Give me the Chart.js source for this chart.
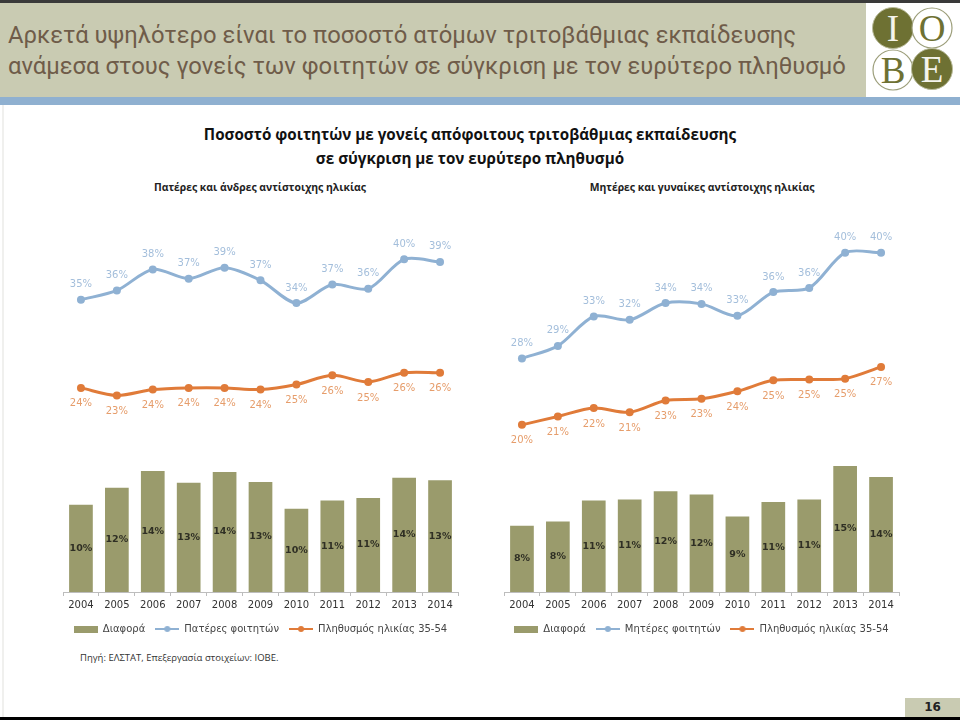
<!DOCTYPE html>
<html>
<head>
<meta charset="utf-8">
<script src="https://cdn.jsdelivr.net/npm/chart.js@4/dist/chart.umd.min.js"></script>
<style>
  body { margin: 0; background: #fff; }
  #page { position: relative; width: 960px; height: 720px; overflow: hidden; background: #fff; }
  #topline { position: absolute; left: 0; top: 0; width: 960px; height: 3px; background: #3a3a3a; }
  #header { position: absolute; left: 0; top: 3px; width: 960px; height: 94px; background: #c9cbb2; }
  #stripe { position: absolute; left: 0; top: 97px; width: 960px; height: 8px; background: #8fb0d0; }
  #headtext { position: absolute; left: 8px; top: 20px; font-family: Roboto, sans-serif; font-size: 23.8px; line-height: 31px; color: #6f5c49; white-space: nowrap; }
  #logo { position: absolute; left: 866px; top: 3px; width: 94px; height: 94px; background: #fff; }
  #title { position: absolute; left: 0; top: 122px; width: 940px; text-align: center; font-family: "Open Sans", sans-serif; font-weight: bold; font-size: 15.2px; line-height: 24px; color: #111; }
  .sub { position: absolute; top: 180px; font-family: "Open Sans", sans-serif; font-weight: bold; font-size: 10.4px; color: #222; text-align: center; width: 300px; }
  canvas { position: absolute; }
  #source { position: absolute; left: 80px; top: 651px; font-family: "Open Sans", sans-serif; font-size: 9.5px; color: #333; }
  #pagebox { position: absolute; left: 905px; top: 698px; width: 55px; height: 19px; background: #c9cbb2; font-family: "DejaVu Sans", sans-serif; font-weight: bold; font-size: 12px; line-height: 19px; color: #222; text-align: center; }
  #bottomline { position: absolute; left: 0; top: 717px; width: 960px; height: 3px; background: #000; }
  #leftline { position: absolute; left: 2px; top: 105px; width: 2px; height: 612px; background: #f0f0ee; }
</style>
</head>
<body>
<div id="page">
  <div id="topline"></div>
  <div id="header"></div>
  <div id="stripe"></div>
  <div id="headtext">Αρκετά υψηλότερο είναι το ποσοστό ατόμων τριτοβάθμιας εκπαίδευσης<br>ανάμεσα στους γονείς των φοιτητών σε σύγκριση με τον ευρύτερο πληθυσμό</div>
  <div id="logo">
    <svg width="94" height="94" viewBox="0 0 94 94">
      <circle cx="27" cy="25" r="20.5" fill="#6e7133" stroke="#b9bb9a" stroke-width="1"/>
      <circle cx="66" cy="25" r="20" fill="#fff" stroke="#9c9e7a" stroke-width="1.2"/>
      <circle cx="27" cy="67" r="20" fill="#fff" stroke="#9c9e7a" stroke-width="1.2"/>
      <circle cx="66" cy="66" r="20.5" fill="#6e7133" stroke="#b9bb9a" stroke-width="1"/>
      <text x="27" y="38" text-anchor="middle" font-family="Liberation Serif" font-size="37" fill="#f4f4ec">I</text>
      <text x="66" y="38" text-anchor="middle" font-family="Liberation Serif" font-size="37" fill="#6e7133">O</text>
      <text x="27" y="80" text-anchor="middle" font-family="Liberation Serif" font-size="37" fill="#6e7133">B</text>
      <text x="66" y="79" text-anchor="middle" font-family="Liberation Serif" font-size="37" fill="#f4f4ec">E</text>
    </svg>
  </div>
  <div id="title">Ποσοστό φοιτητών με γονείς απόφοιτους τριτοβάθμιας εκπαίδευσης<br>σε σύγκριση με τον ευρύτερο πληθυσμό</div>
  <div class="sub" style="left:110px">Πατέρες και άνδρες αντίστοιχης ηλικίας</div>
  <div class="sub" style="left:552px">Μητέρες και γυναίκες αντίστοιχης ηλικίας</div>
  <canvas id="leftChart" width="430" height="444" style="left:45px; top:200px"></canvas>
  <canvas id="rightChart" width="430" height="444" style="left:496px; top:200px"></canvas>
  <div id="source">Πηγή: ΕΛΣΤΑΤ, Επεξεργασία στοιχείων: ΙΟΒΕ.</div>
  <div id="leftline"></div>
  <div id="pagebox">16</div>
  <div id="bottomline"></div>
</div>
<script>
// Data
const years = ["2004", "2005", "2006", "2007", "2008", "2009", "2010", "2011", "2012", "2013", "2014"];

const leftDiff = [10.4, 12.4, 14.4, 13.0, 14.3, 13.1, 9.9, 10.9, 11.2, 13.6, 13.3];
const leftFathers = [34.8, 35.9, 38.4, 37.3, 38.6, 37.1, 34.4, 36.6, 36.1, 39.6, 39.3];
const leftMen = [24.3, 23.4, 24.1, 24.3, 24.3, 24.1, 24.7, 25.8, 25.0, 26.1, 26.1];

const rightDiff = [7.9, 8.4, 10.9, 11.0, 12.0, 11.6, 9.0, 10.7, 11.0, 15.0, 13.7];
const rightMothers = [27.8, 29.3, 32.8, 32.4, 34.4, 34.3, 32.9, 35.7, 36.2, 40.4, 40.4];
const rightWomen = [19.9, 20.9, 21.9, 21.4, 22.8, 23.0, 23.9, 25.2, 25.3, 25.4, 26.8];

const olive = "#9a9b6c";
const blue = "#8fb1d3";
const orange = "#e07b39";

// legend swatches
function swatch(kind, color) {
  const c = document.createElement("canvas");
  c.width = 24;
  c.height = 10;
  const g = c.getContext("2d");
  if (kind === "bar") {
    g.fillStyle = color;
    g.fillRect(0, 2, 24, 7);
  } else {
    g.strokeStyle = color;
    g.lineWidth = 2;
    g.beginPath();
    g.moveTo(0, 5);
    g.lineTo(24, 5);
    g.stroke();
    g.fillStyle = color;
    g.beginPath();
    g.arc(12, 5, 3, 0, Math.PI * 2);
    g.fill();
  }
  return c;
}

// value labels on bars and points
const valueLabels = {
  id: "valueLabels",
  afterDatasetsDraw(chart) {
    const ctx = chart.ctx;
    chart.data.datasets.forEach((ds, i) => {
      const meta = chart.getDatasetMeta(i);
      ctx.save();
      ctx.font = ds.labelFont;
      ctx.fillStyle = ds.labelColor;
      ctx.textAlign = "center";
      ctx.textBaseline = "middle";
      meta.data.forEach((el, j) => {
        const txt = Math.round(ds.data[j]) + "%";
        let y;
        if (meta.type === "bar") {
          y = (el.y + el.base) / 2;
        } else {
          y = el.y + ds.labelOffset;
        }
        ctx.fillText(txt, el.x, y);
      });
      ctx.restore();
    });
  }
};

function makeChart(canvasId, diff, parents, population, parentLabel, pad) {
  const ctx = document.getElementById(canvasId).getContext("2d");
  const swatches = [swatch("bar", olive), swatch("line", blue), swatch("line", orange)];
  return new Chart(ctx, {
    type: "bar",
    data: {
      labels: years,
      datasets: [
        {
          label: "Διαφορά",
          data: diff,
          backgroundColor: olive,
          barPercentage: 0.66,
          categoryPercentage: 1,
          labelFont: "bold 9.5px 'DejaVu Sans'",
          labelColor: "#2f2f24",
          order: 3,
        },
        {
          type: "line",
          label: parentLabel,
          data: parents,
          borderColor: blue,
          backgroundColor: blue,
          borderWidth: 3,
          pointRadius: 4,
          pointBorderWidth: 0,
          tension: 0.3,
          labelFont: "10px 'DejaVu Sans'",
          labelColor: "#a3bedb",
          labelOffset: -15,
          order: 1,
        },
        {
          type: "line",
          label: "Πληθυσμός ηλικίας 35-54",
          data: population,
          borderColor: orange,
          backgroundColor: orange,
          borderWidth: 3,
          pointRadius: 4,
          pointBorderWidth: 0,
          tension: 0.3,
          labelFont: "10px 'DejaVu Sans'",
          labelColor: "#e69d6b",
          labelOffset: 16,
          order: 2,
        },
      ],
    },
    options: {
      responsive: false,
      animation: false,
      layout: { padding: pad },
      plugins: {
        tooltip: { enabled: false },
        legend: {
          position: "bottom",
          labels: {
            usePointStyle: true,
            pointStyleWidth: 24,
            padding: 10,
            color: "#444",
            font: { family: "'DejaVu Sans'", size: 10 },
            generateLabels: (chart) =>
              chart.data.datasets.map((ds, i) => ({
                text: ds.label,
                pointStyle: swatches[i],
                fillStyle: "transparent",
                strokeStyle: "transparent",
                lineWidth: 0,
                hidden: false,
                datasetIndex: i,
                fontColor: "#444",
              })),
          },
        },
      },
      scales: {
        x: {
          offset: true,
          grid: { display: true, drawOnChartArea: false, drawTicks: true, tickLength: 4, color: "#bdbdbd" },
          border: { display: true, color: "#bdbdbd" },
          ticks: { color: "#333", font: { family: "'DejaVu Sans'", size: 10 }, padding: 3 },
        },
        y: {
          display: false,
          min: 0,
          max: 45,
        },
      },
    },
    plugins: [valueLabels],
  });
}

makeChart("leftChart", leftDiff, leftFathers, leftMen, "Πατέρες φοιτητών", { left: 18, right: 17, top: 14, bottom: 0 });
makeChart("rightChart", rightDiff, rightMothers, rightWomen, "Μητέρες φοιτητών", { left: 8, right: 27, top: 14, bottom: 0 });
</script>
</body>
</html>
